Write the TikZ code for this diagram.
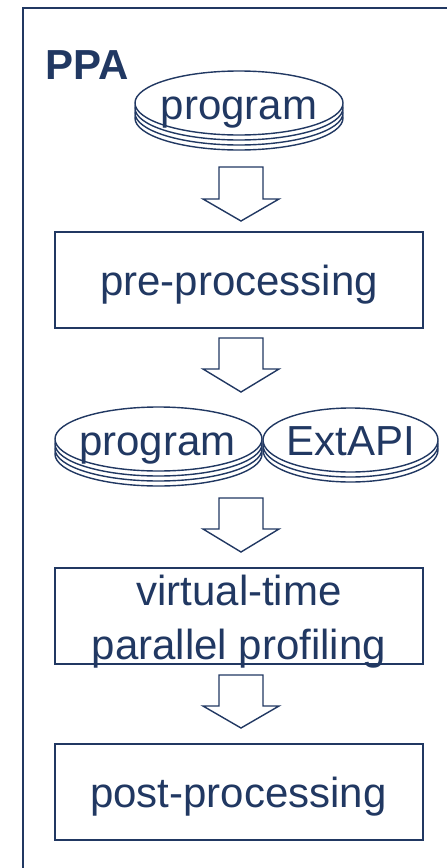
\documentclass[tikz,border=0pt]{standalone}
\usepackage{fontspec}
\setmainfont{Liberation Sans}
\definecolor{navy}{RGB}{33,56,98}
\begin{document}
\begin{tikzpicture}[x=1pt,y=-1pt,line join=miter,
  frame/.style={draw=navy,line width=2pt},
  box/.style={draw=navy,line width=2pt,minimum width=368pt,minimum height=96pt,inner sep=0pt},
  disk/.style={draw=navy,fill=white,line width=1.4pt},
  txt/.style={text=navy,font=\fontsize{42}{50}\selectfont,inner sep=0pt,anchor=base},
  blk/.style={draw=navy,fill=white,line width=1.4pt}]
\useasboundingbox (0,0) rectangle (447,868);
% outer frame (right and bottom edges lie outside the picture)
\draw[frame] (23,900) -- (23,8) -- (480,8);
\node[text=navy,font=\fontsize{42}{50}\selectfont\bfseries,inner sep=0pt,anchor=base west] (ppa) at (45,79) {PPA};
% top program disk
\foreach \k in {3,2,1,0} \draw[disk] (239,{103+5*\k}) ellipse [x radius=104, y radius=32];
\node[txt] (prog1) at (239,119) {program};
% arrows
\foreach \a/\b/\c in {167/199/221, 338/369/392, 498/529/552, 675/706/728}
  \draw[blk] (219,\a) -- (263,\a) -- (263,\b) -- (279,\b) -- (241,\c) -- (203,\b) -- (219,\b) -- cycle;
% pre-processing
\node[box] (pre) at (239,280) {};
\node[txt] (pretxt) at (239,295) {pre-processing};
% program + ExtAPI disks
\foreach \k in {2,1,0} \draw[disk] (350.5,{440+5*\k}) ellipse [x radius=87.5, y radius=32];
\foreach \k in {3,2,1,0} \draw[disk] (158.5,{439+5*\k}) ellipse [x radius=103.5, y radius=32];
\node[txt] (prog2) at (157.5,455) {program};
\node[txt] (ext) at (350.5,455) {ExtAPI};
% virtual-time parallel profiling
\node[box] (vt) at (239,616) {};
\node[txt] (vt1) at (239,605) {virtual-time};
\node[txt] (vt2) at (239,659) {parallel profiling};
% post-processing
\node[box] (post) at (239,792) {};
\node[txt] (posttxt) at (238.5,807) {post-processing};
\end{tikzpicture}
\end{document}
